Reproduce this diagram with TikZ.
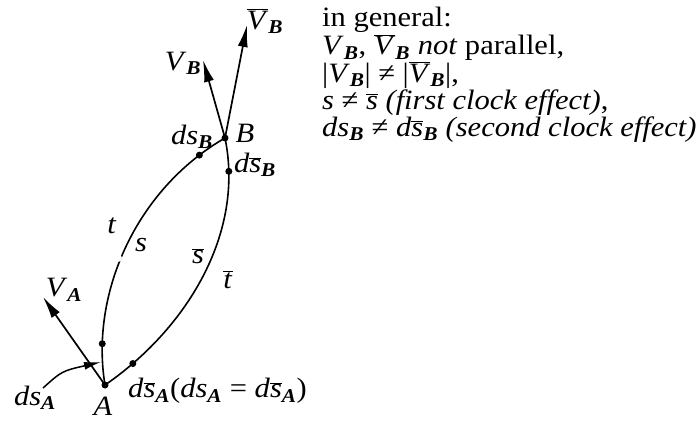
\documentclass[tikz,border=0pt]{standalone}
\usepackage{fontspec}
\setmainfont{Liberation Serif}[FakeStretch=1.09]
\usetikzlibrary{arrows.meta}
\newcommand\bsub[1]{\textsubscript{\bfseries\itshape #1}}
\newcommand\obar[1]{\ensuremath{\overline{\mbox{#1}}}}
\newcommand\iV{\textit{V}}
\begin{document}
\begin{tikzpicture}[x=1pt,y=-1pt,
  every node/.style={font=\fontsize{28}{28}\selectfont, inner sep=0pt},
  dot/.style={circle,fill=black,minimum size=7pt,inner sep=0pt},
  curve/.style={line width=1.6pt},
  vec/.style={line width=1.7pt,-{Latex[length=22pt,width=10pt]}},
  smallvec/.style={line width=1.5pt,-{Latex[length=17pt,width=8pt]}},
  lbl/.style={anchor=center},
  txt/.style={anchor=base west}]
\useasboundingbox (0,0) rectangle (700,420);
\node[dot] (A) at (105,385) {};
\node[dot] (B) at (225,138) {};
% left world line
\draw[curve] (A.center) .. controls (90,295) and (135,190) .. (B.center)
  node[dot,pos=0.15] (dl1) {} node[dot,pos=0.9] (dl2) {};
% right world line
\draw[curve] (A.center) .. controls (185,330) and (245,235) .. (B.center)
  node[dot,pos=0.12] (dr1) {} node[dot,pos=0.885] (dr2) {};
% gaps in the lines
\fill[white] (118,258) circle (4);
\fill[white] (200,296) circle (4);
% vectors
\coordinate (VAtip) at (43,297);
\coordinate (VBtip) at (203,60);
\coordinate (VBbtip) at (247,25);
\draw[vec] (A.center) -- (VAtip);
\draw[vec] (B.center) -- (VBtip);
\draw[vec] (B.center) -- (VBbtip);
\coordinate (dsAstart) at (43,388);
\coordinate (dsAend) at (101,362);
\draw[smallvec] (dsAstart) .. controls (62,371) .. (dsAend);
% labels
\node[lbl] (lVBb) at (265,21) {\obar{\iV}\bsub{B}};
\node[lbl] (lVB) at (183,63) {\iV\bsub{B}};
\node[lbl] (ldsB) at (192,137) {\textit{ds}\bsub{B}};
\node[lbl] (lB) at (245,133) {\textit{B}};
\node[lbl] (ldsBb) at (255,165) {\textit{d}\obar{\textit{s}}\bsub{B}};
\node[lbl] (lt) at (112,226) {\textit{t}};
\node[lbl] (ls) at (141,245) {\textit{s}};
\node[lbl] (lsb) at (198,256) {\obar{\textit{s}}};
\node[lbl] (ltb) at (228,280) {\obar{\textit{t}}};
\node[lbl] (lVA) at (64,290) {\iV\bsub{A}};
\node[lbl] (ldsA) at (35,398) {\textit{ds}\bsub{A}};
\node[lbl] (lA) at (103,406) {\textit{A}};
\node[anchor=west] (ldsAb) at (128,391) {\textit{d}\obar{\textit{s}}\bsub{A}(\textit{ds}\bsub{A} = \textit{d}\obar{\textit{s}}\bsub{A})};
% text block
\node[txt] (t1) at (322,27) {in general:};
\node[txt] (t2) at (322,55) {\iV\bsub{B}, \obar{\iV}\bsub{B} \textit{not} parallel,};
\node[txt] (t3) at (322,82) {|\iV\bsub{B}| ≠ |\obar{\iV}\bsub{B}|,};
\node[txt] (t4) at (322,109) {\textit{s} ≠ \obar{\textit{s}} \textit{(first clock effect)},};
\node[txt] (t5) at (322,136) {\textit{ds}\bsub{B} ≠ \textit{d}\obar{\textit{s}}\bsub{B} \textit{(second clock effect)}};
\end{tikzpicture}
\end{document}
